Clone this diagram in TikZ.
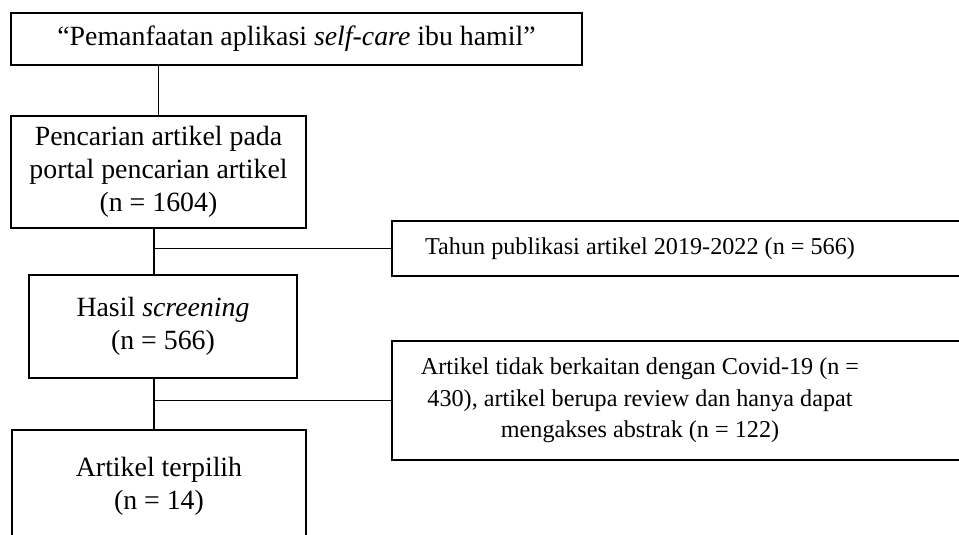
\documentclass[tikz,border=0pt]{standalone}
\usepackage{fontspec}
\setmainfont{Liberation Serif}
\usetikzlibrary{positioning}

\begin{document}
\begin{tikzpicture}[x=0.025cm,y=-0.025cm,
    box/.style={draw,line width=1.4pt,inner sep=0pt,align=center},
    link/.style={line width=1.4pt},
    bigtxt/.style={font=\fontsize{19.8}{23.5}\selectfont},
    sidetxt/.style={font=\fontsize{17.2}{22.5}\selectfont,align=center}]
       \useasboundingbox (0,0) rectangle (959,534);
       \clip (0,0) rectangle (959,534);
       % left column
       \node[box,bigtxt,minimum width=14.275cm,minimum height=1.3cm] (title) at (296.5,39) {“Pemanfaatan aplikasi \textit{self-care} ibu hamil”};
       \node[box,bigtxt,minimum width=7.375cm,minimum height=2.8cm] (search) at (158.5,172) {Pencarian artikel pada\\portal pencarian artikel\\(n = 1604)};
       \node[box,bigtxt,minimum width=6.7cm,minimum height=2.575cm] (screen) at (163,326.5) {Hasil \textit{screening}\\(n = 566)};
       \node[box,bigtxt,minimum width=7.35cm,minimum height=2.8cm,anchor=north] (chosen) at (159,429) {Artikel terpilih\\(n = 14)};
       % right column
       \node[box,minimum width=15.5cm,minimum height=1.375cm,anchor=west] (year) at (391,248.5) {};
       \node[sidetxt] (yeartxt) at (640,248.5) {Tahun publikasi artikel 2019-2022 (n = 566)};
       \node[box,minimum width=15.5cm,minimum height=2.975cm,anchor=west] (reject) at (391,400.5) {};
       \node[sidetxt] (rejecttxt) at (640,400.5) {Artikel tidak berkaitan dengan Covid-19 (n =\\430), artikel berupa review dan hanya dapat\\mengakses abstrak (n = 122)};
       % connectors
       \coordinate (s1) at (154,248.5);
       \coordinate (s2) at (154,400.5);
       \draw[link] (search.north) -- (search.north |- title.south);
       \draw[link] (search.south -| s1) -- (screen.north -| s1);
       \draw[link] (s1) -- (year.west);
       \draw[link] (screen.south -| s2) -- (chosen.north -| s2);
       \draw[link] (s2) -- (reject.west);
\end{tikzpicture}
\end{document}
